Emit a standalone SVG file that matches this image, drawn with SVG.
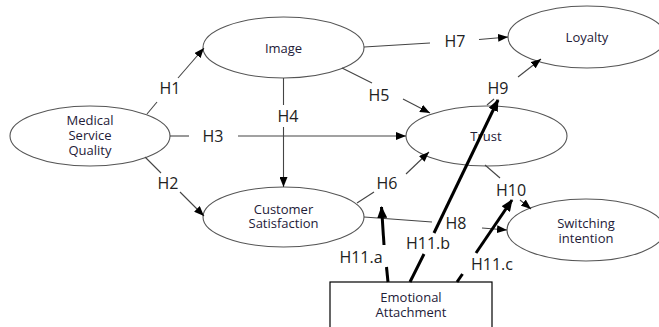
<svg xmlns="http://www.w3.org/2000/svg" width="659" height="327" viewBox="0 0 659 327">
<defs>
<style>
.node{fill:#fff;stroke:#555;stroke-width:1.1}
.nt{font-family:"Open Sans","Noto Sans",sans-serif;font-size:13px;fill:#1e2038;text-anchor:middle}
.lb{font-family:"Open Sans","Noto Sans",sans-serif;font-size:16px;fill:#222;text-anchor:middle}
.thin{fill:none;stroke:#444;stroke-width:1.1}
.thick{fill:none;stroke:#000;stroke-width:3}
</style>
<marker id="a" markerUnits="userSpaceOnUse" markerWidth="10" markerHeight="8" refX="10" refY="4" orient="auto">
<path d="M0,0 L10,4 L0,8 z" fill="#000"/>
</marker>
<marker id="b" markerUnits="userSpaceOnUse" markerWidth="12" markerHeight="10" refX="11" refY="5" orient="auto">
<path d="M0,0 L12,5 L0,10 z" fill="#000"/>
</marker>
</defs>
<rect width="659" height="327" fill="#fff"/>
<g id="msq"><ellipse class="node" cx="90" cy="136" rx="80" ry="30"/><text class="nt" x="90" y="125">Medical</text><text class="nt" x="90" y="140">Service</text><text class="nt" x="90" y="155">Quality</text></g>
<g id="image"><ellipse class="node" cx="283.5" cy="47.5" rx="80.5" ry="30.5"/><text class="nt" x="283.5" y="53">Image</text></g>
<g id="loyalty"><ellipse class="node" cx="587" cy="37" rx="79" ry="31"/><text class="nt" x="587" y="42">Loyalty</text></g>
<g id="trust"><ellipse class="node" cx="486.5" cy="136" rx="80.5" ry="30"/><text class="nt" x="486" y="141">Trust</text></g>
<g id="cs"><ellipse class="node" cx="283.5" cy="217" rx="80.5" ry="30"/><text class="nt" x="283.5" y="214">Customer</text><text class="nt" x="283.5" y="228">Satisfaction</text></g>
<g id="switching"><ellipse class="node" cx="586" cy="230" rx="79" ry="31"/><text class="nt" x="586" y="228">Switching</text><text class="nt" x="586" y="243">intention</text></g>
<g id="ea"><rect x="330" y="282" width="162" height="52" fill="#fff" stroke="#000" stroke-width="1.2"/><text class="nt" x="411" y="302">Emotional</text><text class="nt" x="411" y="317">Attachment</text></g>
<g id="connectors">
<path class="thin" d="M147,114 L157,102"/><path class="thin" d="M178,78 L204,48" marker-end="url(#a)"/>
<path class="thin" d="M145,157 L161,173"/><path class="thin" d="M180,192 L204,216" marker-end="url(#a)"/>
<path class="thin" d="M170,136 L189,136"/><path class="thin" d="M238,136 L406,136" marker-end="url(#a)"/>
<path class="thin" d="M283.5,78 L283.5,105"/><path class="thin" d="M283.5,127 L283.5,187" marker-end="url(#a)"/>
<path class="thin" d="M364,47 L430,43"/><path class="thin" d="M479,39.5 L508,37" marker-end="url(#a)"/>
<path class="thin" d="M342,68 L372,83"/><path class="thin" d="M403,99 L430,113" marker-end="url(#a)"/>
<path class="thin" d="M487,105 L494,99"/><path class="thin" d="M518,77 L541,59" marker-end="url(#a)"/>
<path class="thin" d="M357,203 L374,192"/><path class="thin" d="M406,174 L429,152" marker-end="url(#a)"/>
<path class="thin" d="M485,165 L500,178"/><path class="thin" d="M520,200 L531,209" marker-end="url(#a)"/>
<path class="thin" d="M364,217 L432,222"/><path class="thin" d="M482,228 L507,230" marker-end="url(#a)"/>
<path class="thick" d="M388,282 L386.5,267"/><path class="thick" d="M384,245 L381.5,207" marker-end="url(#b)"/>
<path class="thick" d="M410,282 L424,254"/><path class="thick" d="M434,233 L498,100" marker-end="url(#b)"/>
<path class="thick" d="M457,282 L462.5,274"/><path class="thick" d="M476,253 L512,200" marker-end="url(#b)"/>
<text class="lb" x="170" y="94">H1</text>
<text class="lb" x="168" y="189">H2</text>
<text class="lb" x="213" y="142">H3</text>
<text class="lb" x="288" y="122">H4</text>
<text class="lb" x="379" y="101">H5</text>
<text class="lb" x="387" y="189">H6</text>
<text class="lb" x="455" y="47">H7</text>
<text class="lb" x="456" y="229">H8</text>
<text class="lb" x="498" y="94">H9</text>
<text class="lb" x="511" y="196">H10</text>
<text class="lb" x="361" y="263">H11.a</text>
<text class="lb" x="428" y="249">H11.b</text>
<text class="lb" x="492" y="270">H11.c</text>
</g>
</svg>
